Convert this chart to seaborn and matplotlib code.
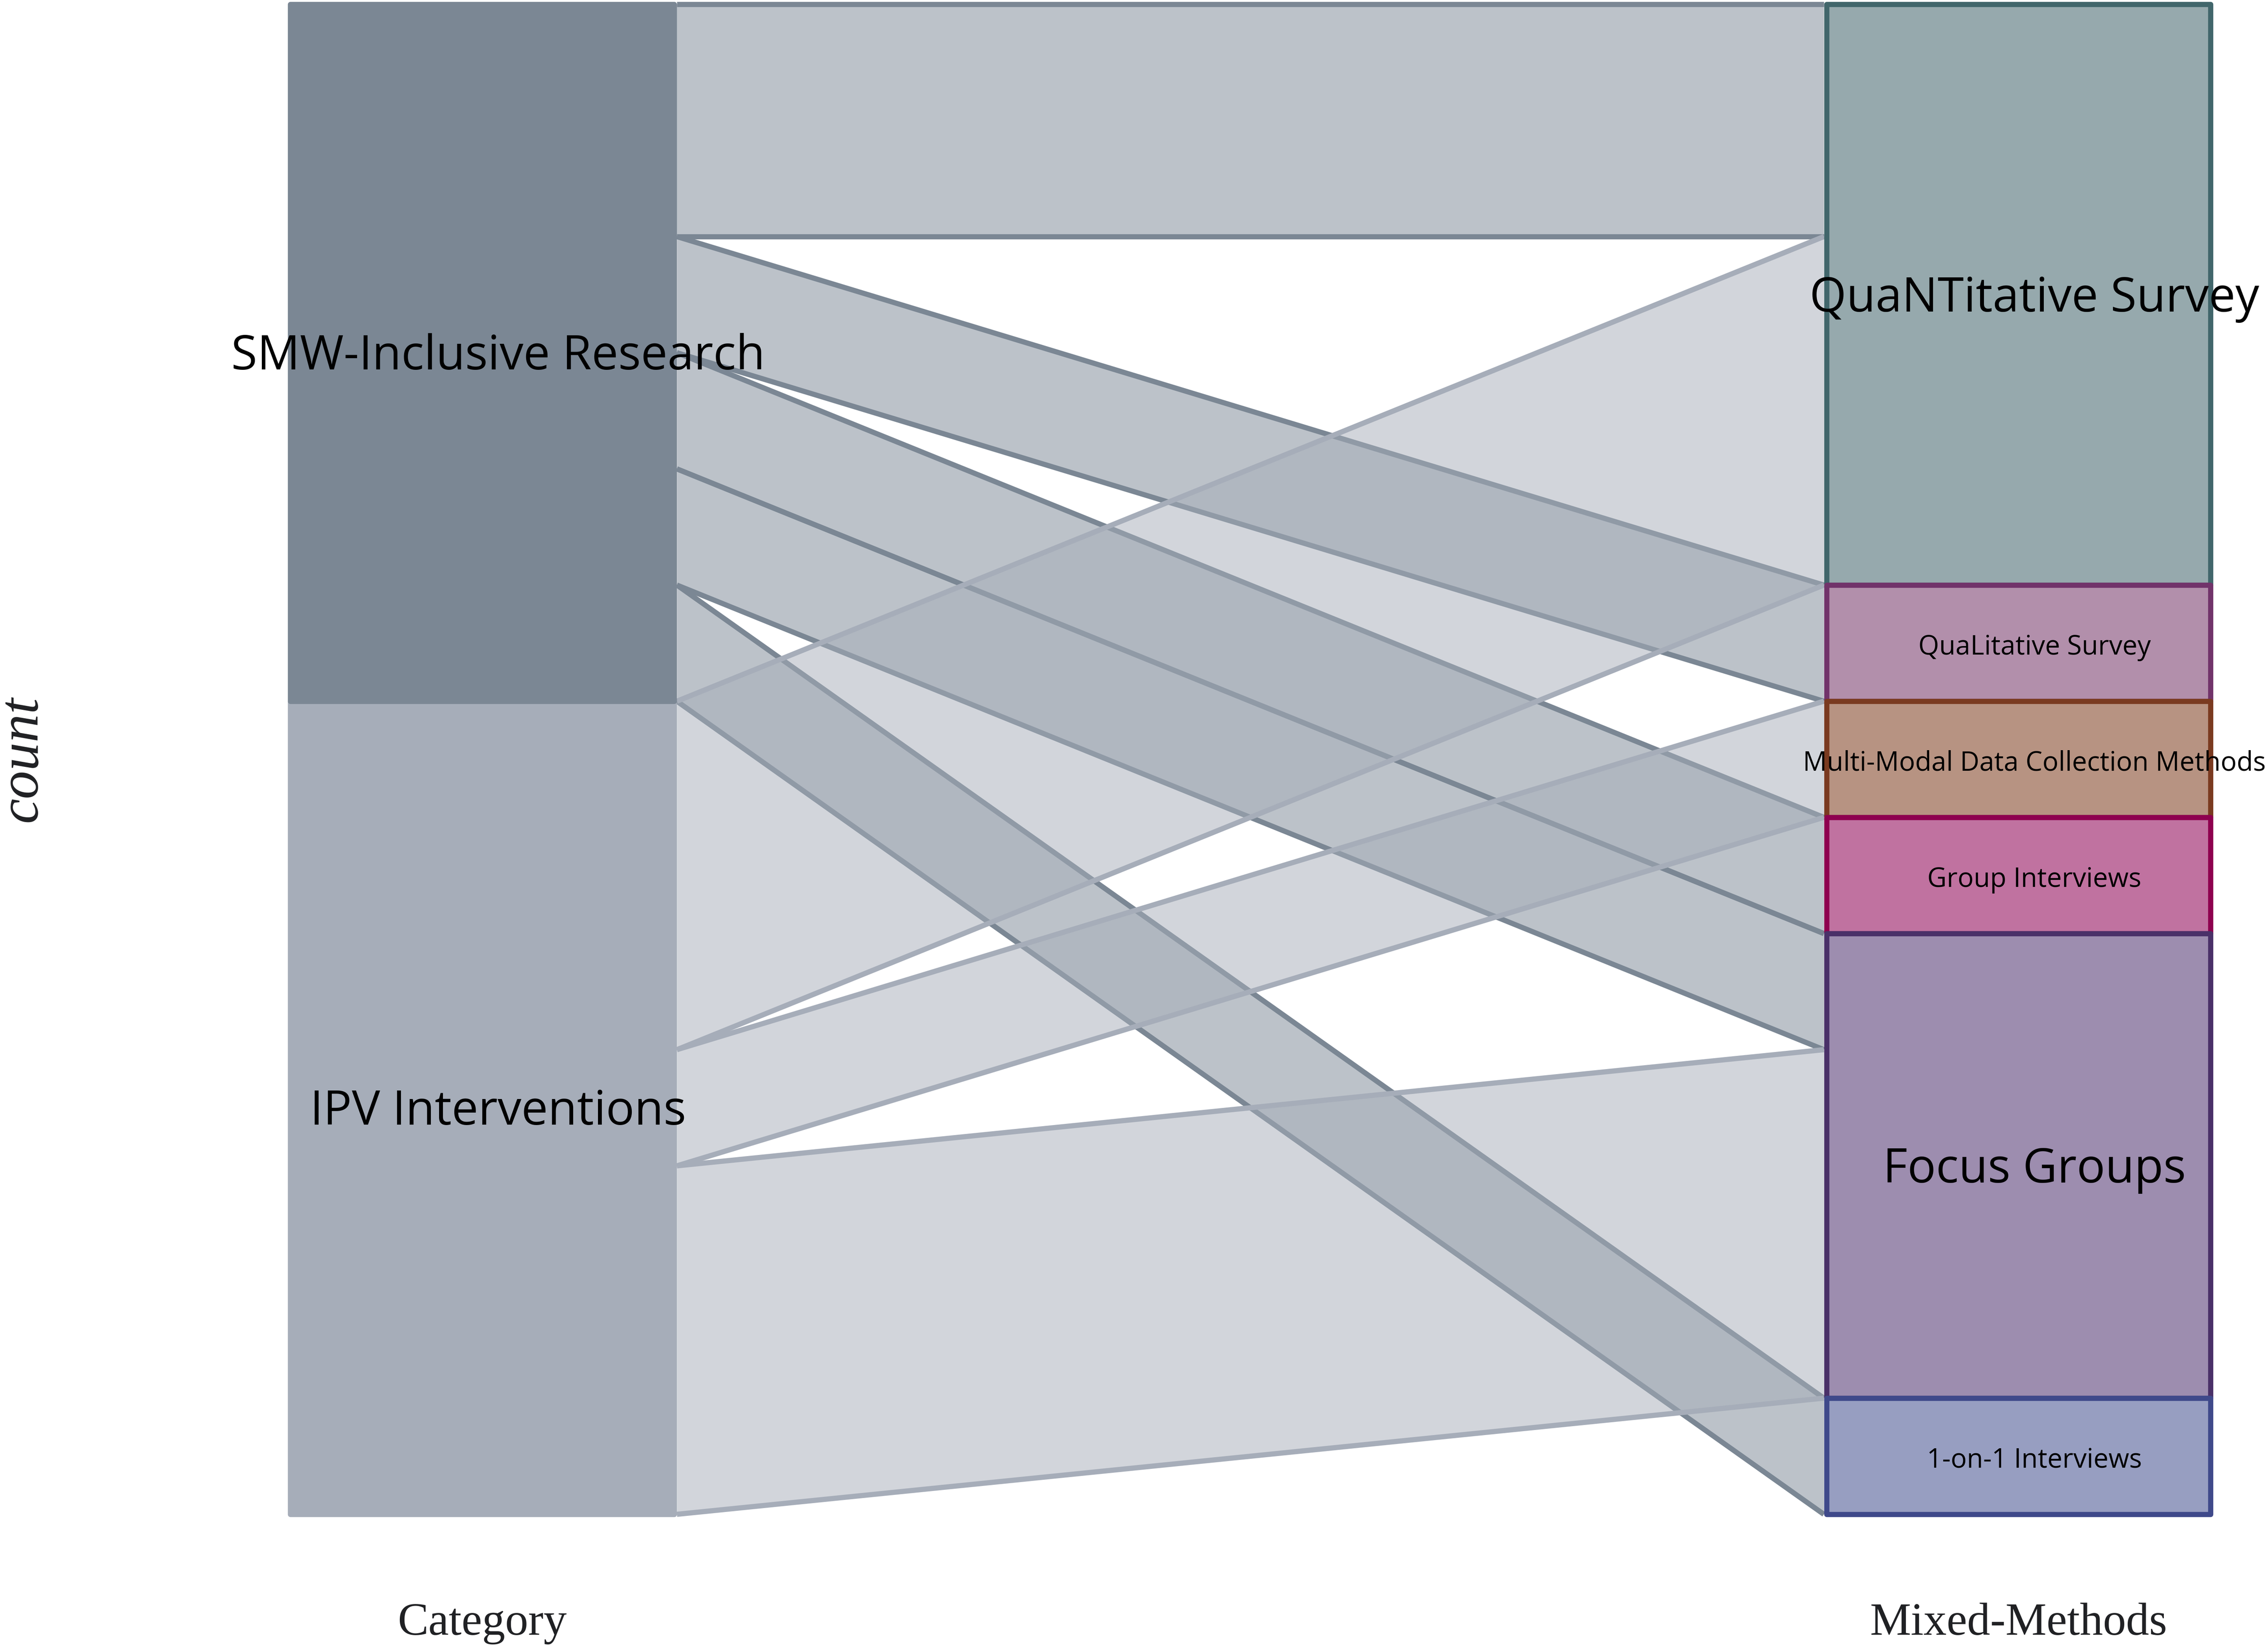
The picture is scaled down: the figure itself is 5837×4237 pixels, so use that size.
import numpy as np
import pandas as pd
import matplotlib
matplotlib.use("Agg")
import matplotlib.pyplot as plt
import matplotlib.transforms as mtransforms
import seaborn as sns

# ---------------- data ----------------
categories = ["SMW-Inclusive Research", "IPV Interventions"]
methods = ["QuaNTitative Survey", "QuaLitative Survey",
           "Multi-Modal Data Collection Methods", "Group Interviews",
           "Focus Groups", "1-on-1 Interviews"]

flow_source = ["SMW-Inclusive Research"] * 5 + ["IPV Interventions"] * 3
flow_target = ["QuaNTitative Survey", "QuaLitative Survey", "Group Interviews",
               "Focus Groups", "1-on-1 Interviews",
               "QuaNTitative Survey", "Multi-Modal Data Collection Methods",
               "Focus Groups"]
flow_count = [2, 1, 1, 1, 1, 3, 1, 3]

axis_titles = ["Category", "Mixed-Methods"]
y_title = "count"

# ---------------- styles ----------------
category_fill = ["#7b8794", "#a6adb9"]
method_fill = ["#96a9ad", "#b28fab", "#b79382", "#c072a0", "#9d8daf", "#979ec1"]
method_edge = ["#41666b", "#71336a", "#7a3a20", "#8e004f", "#4a3068", "#3f498a"]
big_methods = {"QuaNTitative Survey", "Focus Groups"}

BIG_FS = 29.3
SMALL_FS = 16.5
LW = 3.2
W = 0.25
X_LEFT, X_RIGHT = 1, 2
TEXT_DX = 0.0104
TEXT_DY = -0.037

sns.set_theme(style="white")
plt.rcParams["font.family"] = ["Open Sans", "DejaVu Sans"]

df = pd.DataFrame({"source": flow_source, "target": flow_target, "n": flow_count})
total = df["n"].sum()

fig = plt.figure(figsize=(5837 / 300, 4237 / 300), dpi=300)
ax_left_px, ax_right_px = 747, 5689
ax = fig.add_axes([ax_left_px / 5837, (4237 - 3898) / 4237,
                   (ax_right_px - ax_left_px) / 5837, (3898 - 11) / 4237])
ax.set_xlim(X_LEFT - W / 2, X_RIGHT + W / 2)
ax.set_ylim(0, total)
ax.axis("off")

# half border width in data units (x)
px_per_unit = (ax_right_px - ax_left_px) / (1 + W)
half_border = (LW * 300 / 72) / 2 / px_per_unit

# stratum extents (stacked top-down)
cat_tot = df.groupby("source")["n"].sum().reindex(categories)
met_tot = df.groupby("target")["n"].sum().reindex(methods)
cat_top = dict(zip(categories, total - np.concatenate([[0], np.cumsum(cat_tot.values)[:-1]])))
met_top = dict(zip(methods, total - np.concatenate([[0], np.cumsum(met_tot.values)[:-1]])))

# flow positions at each axis
df["src_rank"] = df["source"].map({c: i for i, c in enumerate(categories)})
df["tgt_rank"] = df["target"].map({m: i for i, m in enumerate(methods)})
left_hi, right_hi = {}, {}
for c, g in df.sort_values("tgt_rank").groupby("source", sort=False):
    y = cat_top[c]
    for idx, r in g.iterrows():
        left_hi[idx] = y
        y -= r["n"]
for m, g in df.sort_values("src_rank").groupby("target", sort=False):
    y = met_top[m]
    for idx, r in g.iterrows():
        right_hi[idx] = y
        y -= r["n"]

x0 = X_LEFT + W / 2 + half_border
x1 = X_RIGHT - W / 2 - half_border
for idx, r in df.sort_values("src_rank", kind="stable").iterrows():
    col = category_fill[r["src_rank"]]
    lh, rh = left_hi[idx], right_hi[idx]
    ll, rl = lh - r["n"], rh - r["n"]
    ax.fill_between([x0, x1], [ll, rl], [lh, rh], color=col, alpha=0.5, lw=0,
                    zorder=1, clip_on=False)
    ax.plot([x0, x1], [lh, rh], color=col, lw=LW, solid_capstyle="butt",
            zorder=1, clip_on=False)
    ax.plot([x0, x1], [ll, rl], color=col, lw=LW, solid_capstyle="butt",
            zorder=1, clip_on=False)

# strata (left drawn bottom-up so upper stratum sits on top)
for i in reversed(range(len(categories))):
    c = categories[i]
    ax.bar(X_LEFT, cat_tot[c], bottom=cat_top[c] - cat_tot[c], width=W,
           color=category_fill[i], edgecolor=category_fill[i], linewidth=LW,
           joinstyle="round", zorder=3, clip_on=False)
for i, c in enumerate(categories):
    ax.text(X_LEFT + TEXT_DX, cat_top[c] - cat_tot[c] / 2 + TEXT_DY, c, fontsize=BIG_FS,
            ha="center", va="center", color="black", zorder=5)
for i, m in enumerate(methods):
    ax.bar(X_RIGHT, met_tot[m], bottom=met_top[m] - met_tot[m], width=W,
           color=method_fill[i], edgecolor=method_edge[i], linewidth=LW,
           joinstyle="round", zorder=3, clip_on=False)
    fs = BIG_FS if m in big_methods else SMALL_FS
    ax.text(X_RIGHT + TEXT_DX, met_top[m] - met_tot[m] / 2 + TEXT_DY, m, fontsize=fs,
            ha="center", va="center", color="black", zorder=5)

# axis titles
trans = mtransforms.blended_transform_factory(ax.transData, fig.transFigure)
for xpos, t in zip([X_LEFT, X_RIGHT], axis_titles):
    ax.text(xpos, 1 - 4208 / 4237, t, transform=trans, ha="center", va="baseline",
            fontsize=28.5, family=["Liberation Serif", "DejaVu Serif"], color="#202124")
fig.text(58 / 5837, 1 - 1954 / 4237, y_title, rotation=90, ha="center", va="center",
         fontsize=35, style="italic", family=["Liberation Serif", "DejaVu Serif"],
         color="#202124")

fig.savefig("out.png", dpi=300, facecolor="white")
